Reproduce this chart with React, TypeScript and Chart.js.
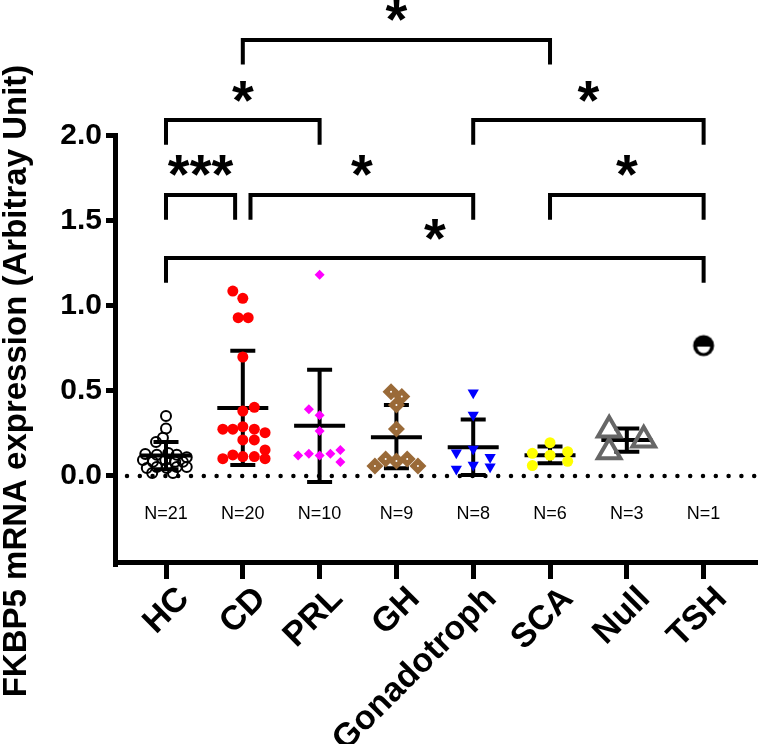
import React, { useEffect, useRef } from 'react';
import { Chart, registerables } from 'chart.js';
Chart.register(...registerables);

// ---------------- data ----------------
const categories = ['HC', 'CD', 'PRL', 'GH', 'Gonadotroph', 'SCA', 'Null', 'TSH'];
const nLabels = ['N=21', 'N=20', 'N=10', 'N=9', 'N=8', 'N=6', 'N=3', 'N=1'];
const yTickValues = [0, 0.5, 1.0, 1.5, 2.0];

const hcValues = [0.353, 0.28, 0.225, 0.2, 0.13, 0.125, 0.135, 0.125, 0.11, 0.094, 0.083, 0.094, 0.083, 0.083, 0.047, 0.053, 0.047, 0.053, 0.053, 0.018, 0.018];
const hcJitter = [0, 0, -0.04, -0.13, -0.27, -0.12, 0.03, 0.14, 0.27, -0.3, -0.17, -0.01, 0.12, 0.22, -0.25, -0.12, 0.01, 0.14, 0.27, -0.18, 0.09];

const cdValues = [1.088, 1.045, 0.931, 0.931, 0.70, 0.404, 0.382, 0.275, 0.275, 0.29, 0.275, 0.255, 0.212, 0.212, 0.153, 0.102, 0.124, 0.114, 0.114, 0.102];
const cdJitter = [-0.13, 0, -0.06, 0.07, 0, 0.15, 0, -0.26, -0.13, 0, 0.15, 0.29, 0, 0.15, 0.29, -0.26, -0.13, 0, 0.15, 0.29];

const prlValues = [1.184, 0.392, 0.357, 0.265, 0.12, 0.131, 0.12, 0.131, 0.153, 0.082];
const prlJitter = [0, -0.14, 0, 0, -0.28, -0.14, 0, 0.14, 0.27, 0.27];

const ghValues = [0.496, 0.467, 0.418, 0.276, 0.059, 0.10, 0.088, 0.10, 0.059];
const ghJitter = [-0.07, 0.07, 0, 0, -0.28, -0.14, 0, 0.14, 0.28];

const gonValues = [0.49, 0.359, 0.159, 0.137, 0.11, 0.041, 0.065, 0.055];
const gonJitter = [0, 0, 0, -0.22, 0.22, -0.22, 0, 0.22];

const scaValues = [0.196, 0.133, 0.122, 0.143, 0.061, 0.086];
const scaJitter = [0, -0.23, 0, 0.23, -0.23, 0.23];

const nullValues = [0.27, 0.143, 0.212];
const nullJitter = [-0.23, -0.23, 0.22];

const tshValues = [0.767];
const tshJitter = [0];

const groupMean = [0.12, 0.40, 0.295, 0.228, 0.169, 0.122, 0.212, null];
const groupSdLow = [0.04, 0.065, -0.035, 0.045, 0.006, 0.075, 0.143, null];
const groupSdHigh = [0.20, 0.737, 0.625, 0.418, 0.333, 0.173, 0.28, null];

const bracketFrom = [1, 0, 4, 0, 1.1, 5, 0];
const bracketTo = [5, 2, 7, 0.9, 4, 7, 7];
const bracketLevel = [2.565, 2.094, 2.094, 1.653, 1.653, 1.653, 1.282];
const bracketStars = ['*', '*', '*', '***', '*', '*', '*'];

const N_LABEL_VALUE = -0.224;
const yTitle = 'FKBP5 mRNA expression (Arbitray Unit)';

// ---------------- layout / style ----------------
const X_MIN = -0.625;
const X_MAX = 7.708;
const Y_MIN = -0.506;
const Y_MAX = 2.8;
const LEG = 0.145;
const FONT = "'Liberation Sans', Arial, sans-serif";

function makeTshMarker(): HTMLCanvasElement {
  const c = document.createElement('canvas');
  c.width = 24;
  c.height = 24;
  const g = c.getContext('2d')!;
  g.fillStyle = '#000';
  g.beginPath();
  g.arc(12, 12, 10.5, 0, Math.PI * 2);
  g.fill();
  g.fillStyle = '#fff';
  g.beginPath();
  g.arc(12, 13, 6.5, 0, Math.PI);
  g.closePath();
  g.fill();
  return c;
}

const annotPlugin = {
  id: 'annot',
  beforeDatasetsDraw(chart: any) {
    const { ctx, scales } = chart;
    const xs = scales.x, ys = scales.y;
    ctx.save();
    ctx.strokeStyle = '#000';
    ctx.lineWidth = 4;
    ctx.lineCap = 'butt';
    groupMean.forEach((m, i) => {
      if (m === null) return;
      const xp = xs.getPixelForValue(i);
      const ym = ys.getPixelForValue(m);
      const yl = ys.getPixelForValue(groupSdLow[i] as number);
      const yh = ys.getPixelForValue(groupSdHigh[i] as number);
      ctx.beginPath();
      ctx.moveTo(xp, yl + 2);
      ctx.lineTo(xp, yh - 2);
      ctx.moveTo(xp - 25.5, ym);
      ctx.lineTo(xp + 25.5, ym);
      ctx.moveTo(xp - 12.5, yl);
      ctx.lineTo(xp + 12.5, yl);
      ctx.moveTo(xp - 12.5, yh);
      ctx.lineTo(xp + 12.5, yh);
      ctx.stroke();
    });
    ctx.restore();
  },
  afterDatasetsDraw(chart: any) {
    const { ctx, scales, chartArea } = chart;
    const xs = scales.x, ys = scales.y;
    ctx.save();
    // stars
    ctx.fillStyle = '#000';
    ctx.font = `bold 56px ${FONT}`;
    ctx.textAlign = 'center';
    ctx.textBaseline = 'alphabetic';
    bracketStars.forEach((s, i) => {
      const cx = xs.getPixelForValue((bracketFrom[i] + bracketTo[i]) / 2);
      const cy = ys.getPixelForValue(bracketLevel[i]) - 29;
      const m = ctx.measureText(s);
      const asc = m.actualBoundingBoxAscent, desc = m.actualBoundingBoxDescent;
      const base = cy + (asc - desc) / 2;
      ctx.fillText(s, cx, base);
    });
    // N labels
    ctx.font = `18px 'Liberation Sans Narrow', 'Liberation Sans', Arial, sans-serif`;
    ctx.textBaseline = 'middle';
    nLabels.forEach((t, i) => {
      ctx.fillText(t, xs.getPixelForValue(i), ys.getPixelForValue(N_LABEL_VALUE));
    });
    // y axis line (to 2.0 only)
    const yTop = ys.getPixelForValue(2.0);
    ctx.fillRect(chartArea.left - 5, yTop - 2.5, 5, chartArea.bottom + 5 - (yTop - 2.5));
    // y title
    ctx.translate(17, 381);
    ctx.rotate(-Math.PI / 2);
    ctx.font = `bold 33px ${FONT}`;
    ctx.textAlign = 'center';
    ctx.textBaseline = 'middle';
    ctx.fillText(yTitle, 0, 0);
    ctx.restore();
  },
};

export default function App() {
  const ref = useRef<HTMLCanvasElement | null>(null);
  useEffect(() => {
    if (!ref.current) return;
    const tsh = makeTshMarker();
    const pts = (vals: number[], jit: number[], i: number) => vals.map((v, k) => ({ x: i + jit[k], y: v }));
    const datasets: any[] = [
      { label: 'HC', data: pts(hcValues, hcJitter, 0), pointStyle: 'circle', pointRadius: 5, borderColor: '#000', backgroundColor: 'rgba(0,0,0,0)', borderWidth: 2, order: 1 },
      { label: 'CD', data: pts(cdValues, cdJitter, 1), pointStyle: 'circle', pointRadius: 5.5, borderColor: '#ff0000', backgroundColor: '#ff0000', borderWidth: 0, order: 1 },
      { label: 'PRL', data: pts(prlValues, prlJitter, 2), pointStyle: 'rectRot', pointRadius: 5, borderColor: '#ff00ff', backgroundColor: '#ff00ff', borderWidth: 0, order: 1 },
      { label: 'GH dot', data: pts(ghValues, ghJitter, 3), pointStyle: 'circle', pointRadius: 1, borderWidth: 0, backgroundColor: '#ffffff', order: 0 },
      { label: 'GH', data: pts(ghValues, ghJitter, 3), pointStyle: 'rectRot', pointRadius: 8.5, borderColor: '#9a6a38', backgroundColor: '#9a6a38', borderWidth: 0, order: 1 },
      { label: 'Gonadotroph', data: pts(gonValues, gonJitter, 4), pointStyle: 'triangle', rotation: 180, pointRadius: 6.5, borderColor: '#0000ff', backgroundColor: '#0000ff', borderWidth: 0, order: 1 },
      { label: 'SCA', data: pts(scaValues, scaJitter, 5), pointStyle: 'circle', pointRadius: 5.5, borderColor: '#ffff00', backgroundColor: '#ffff00', borderWidth: 0, order: 1 },
      { label: 'Null', data: pts(nullValues, nullJitter, 6), pointStyle: 'triangle', pointRadius: 13, borderColor: '#666666', backgroundColor: 'rgba(0,0,0,0)', borderWidth: 4, order: 1 },
      { label: 'TSH', data: pts(tshValues, tshJitter, 7), pointStyle: tsh, pointRadius: 12, order: 1 },
    ];
    bracketFrom.forEach((f, i) => {
      const t = bracketTo[i], l = bracketLevel[i];
      datasets.push({
        type: 'line',
        data: [{ x: f, y: l - LEG }, { x: f, y: l }, { x: t, y: l }, { x: t, y: l - LEG }],
        borderColor: '#000', borderWidth: 4, pointRadius: 0, borderJoinStyle: 'miter', borderCapStyle: 'butt',
        tension: 0, clip: false, order: 2,
      });
    });
    datasets.push({
      type: 'line',
      data: [{ x: X_MIN, y: 0 }, { x: X_MAX, y: 0 }],
      borderColor: '#000', borderWidth: 4.5, borderDash: [0, 12.8], borderDashOffset: -9, borderCapStyle: 'round',
      pointRadius: 0, order: 3,
    });

    const chart = new Chart(ref.current, {
      type: 'scatter',
      data: { datasets },
      options: {
        animation: false,
        responsive: true,
        maintainAspectRatio: false,
        layout: { padding: 0, autoPadding: false },
        plugins: { legend: { display: false }, tooltip: { enabled: false } },
        scales: {
          x: {
            type: 'linear',
            min: X_MIN,
            max: X_MAX,
            afterBuildTicks: (s: any) => { s.ticks = categories.map((_, i) => ({ value: i })); },
            afterFit: (s: any) => { s.height = 182; s.paddingLeft = 0; s.paddingRight = 0; },
            ticks: {
              callback: (v: any) => categories[Math.round(Number(v))] ?? '',
              color: '#000',
              font: { family: FONT, size: 34, weight: 'bold' },
              minRotation: 45,
              maxRotation: 45,
              padding: 0,
              labelOffset: 18,
              autoSkip: false,
            },
            grid: { display: true, drawOnChartArea: false, drawTicks: true, tickLength: 17, tickWidth: 5, tickColor: '#000' },
            border: { display: true, color: '#000', width: 5 },
          },
          y: {
            type: 'linear',
            min: Y_MIN,
            max: Y_MAX,
            afterBuildTicks: (s: any) => { s.ticks = yTickValues.map((v) => ({ value: v })); },
            afterFit: (s: any) => { s.width = 118; s.paddingTop = 0; s.paddingBottom = 0; },
            ticks: {
              callback: (v: any) => Number(v).toFixed(1),
              color: '#000',
              font: { family: FONT, size: 30, weight: 'bold' },
              padding: 4,
            },
            grid: { display: true, drawOnChartArea: false, drawTicks: true, tickLength: 12, tickWidth: 5, tickColor: '#000' },
            border: { display: false },
          },
        },
      },
      plugins: [annotPlugin],
    } as any);
    return () => chart.destroy();
  }, []);
  return (
    <div style={{ position: 'fixed', left: 0, top: 0, width: 758, height: 744, background: '#fff' }}>
      <canvas ref={ref} />
    </div>
  );
}
